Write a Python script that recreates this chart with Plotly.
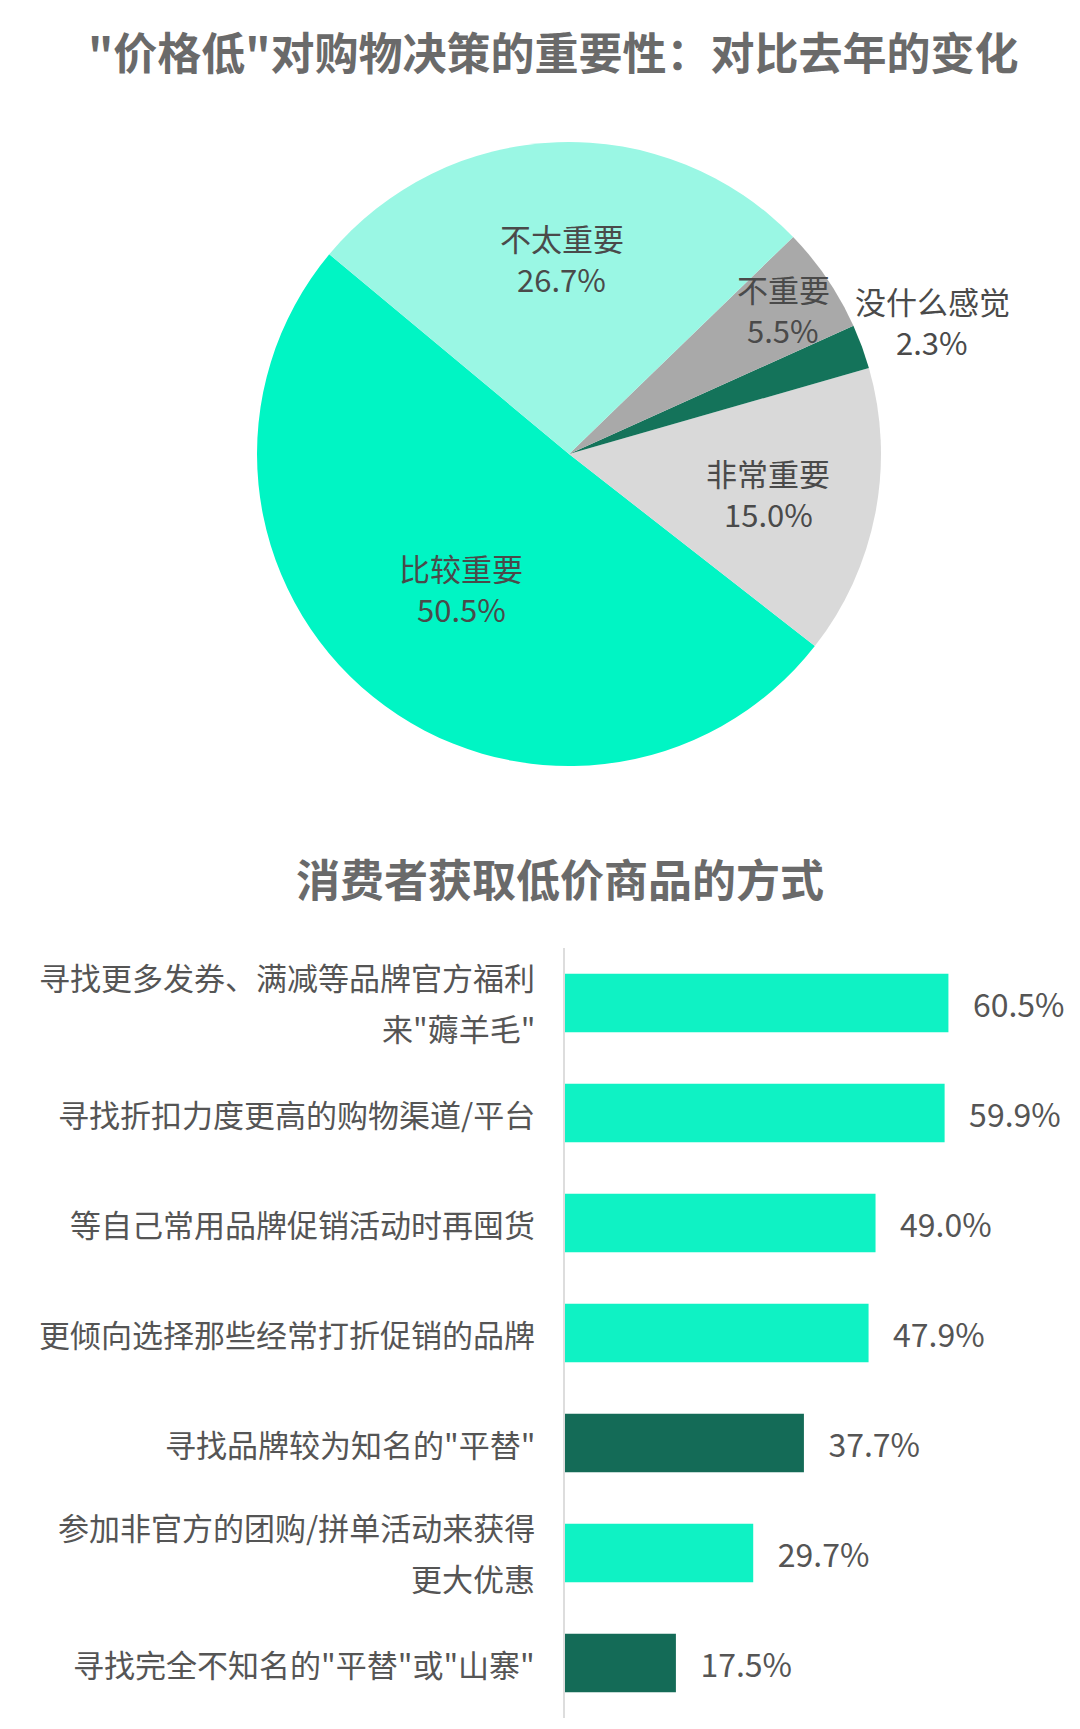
import math
import plotly.graph_objects as go

# page body has an 8px default margin; figure sized so the page is exactly 1080x1729
OFF = 8
W, H = 1080 - 2 * OFF, 1729 - 2 * OFF

# ---- Pie data ----
pie_labels = ["比较重要", "非常重要", "没什么感觉", "不重要", "不太重要"]
pie_values = [50.5, 15.0, 2.3, 5.5, 26.7]
pie_colors = ["#00F5C4", "#D9D9D9", "#14735A", "#A9A9A9", "#9AF7E4"]
# radial position of each slice label, as a fraction of the pie radius
pie_label_radius = [0.55, 0.65, 1.24, 0.83, 0.63]

# ---- Bar data ----
bar_labels = [
    "寻找更多发券、满减等品牌官方福利\n来\"薅羊毛\"",
    "寻找折扣力度更高的购物渠道/平台",
    "等自己常用品牌促销活动时再囤货",
    "更倾向选择那些经常打折促销的品牌",
    "寻找品牌较为知名的\"平替\"",
    "参加非官方的团购/拼单活动来获得\n更大优惠",
    "寻找完全不知名的\"平替\"或\"山寨\"",
]
bar_values = [60.5, 59.9, 49.0, 47.9, 37.7, 29.7, 17.5]
bar_colors = ["#0FF2C4", "#0FF2C4", "#0FF2C4", "#0FF2C4", "#146B57", "#0FF2C4", "#146B57"]

title1 = "\"价格低\"对购物决策的重要性：对比去年的变化"
title2 = "消费者获取低价商品的方式"

FONT = "Noto Sans CJK SC"
TEXT_GRAY = "#555555"
PIE_TEXT = "#4a4a4a"
TITLE_GRAY = "#6a6a6a"


def px(x):
    return (x - OFF) / W


def py(y):
    return 1 - (y - OFF) / H


fig = go.Figure()

# pie geometry (page pixels): center (569, 454), radius 312
cx, cy, r = 569, 454, 312
ROT = 128.0
fig.add_trace(go.Pie(
    labels=pie_labels,
    values=pie_values,
    marker=dict(colors=pie_colors, line=dict(width=0)),
    sort=False,
    direction="counterclockwise",
    rotation=ROT,
    textinfo="none",
    domain=dict(x=[px(cx - r), px(cx + r)], y=[py(cy + r), py(cy - r)]),
    showlegend=False,
    hoverinfo="label+percent",
))

# slice labels (name line + value line), placed at each slice's mid-angle
annotations = []
total = sum(pie_values)
cum = 0.0
for i, (lab, val) in enumerate(zip(pie_labels, pie_values)):
    deg = val / total * 360
    if i == 0:
        a0, a1 = ROT, ROT + deg
    else:
        a1 = ROT - cum
        a0 = a1 - deg
        cum += deg
    mid = math.radians((a0 + a1) / 2)
    f = pie_label_radius[i]
    x = cx + f * r * math.sin(mid)
    y = cy - f * r * math.cos(mid)
    for line, shift in ((lab, 20), (f"{val:.1f}%", -21)):
        annotations.append(dict(
            text=line, x=px(x), y=py(y), xref="paper", yref="paper", yshift=shift,
            showarrow=False, xanchor="center", yanchor="middle",
            font=dict(family=FONT, size=31, color=PIE_TEXT)))

fig.add_trace(go.Bar(
    x=bar_values,
    y=bar_labels,
    orientation="h",
    marker=dict(color=bar_colors, line=dict(width=0)),
    text=[f"\u00a0\u00a0\u00a0{v:.1f}%" for v in bar_values],
    textposition="outside",
    textfont=dict(family=FONT, size=32, color=TEXT_GRAY),
    cliponaxis=False,
    width=0.53,
    showlegend=False,
))

# category labels, right-aligned to the left of the axis, with roomy line spacing
for lab in bar_labels:
    lines = lab.split("\n")
    shifts = [0] if len(lines) == 1 else [27, -24]
    for line, shift in zip(lines, shifts):
        annotations.append(dict(
            text=line, x=px(537), y=lab, xref="paper", yref="y", yshift=shift,
            showarrow=False, xanchor="right", yanchor="middle",
            font=dict(family=FONT, size=31, color=TEXT_GRAY)))

annotations += [
    dict(text=f"<b>{title1}</b>", x=px(553), y=py(51), xref="paper", yref="paper",
         showarrow=False, xanchor="center", yanchor="middle",
         font=dict(family=FONT, size=44, color=TITLE_GRAY)),
    dict(text=f"<b>{title2}</b>", x=px(560), y=py(878), xref="paper", yref="paper",
         showarrow=False, xanchor="center", yanchor="middle",
         font=dict(family=FONT, size=44, color=TITLE_GRAY)),
]

fig.update_layout(
    width=W, height=H,
    margin=dict(l=0, r=0, t=0, b=0),
    paper_bgcolor="white",
    plot_bgcolor="white",
    font=dict(family=FONT, color=TEXT_GRAY),
    xaxis=dict(
        domain=[px(565), 1.0],
        range=[0, 80],
        visible=False,
        fixedrange=True,
    ),
    yaxis=dict(
        domain=[py(1718), py(948)],
        autorange="reversed",
        showline=True,
        linecolor="#DDDDDD",
        linewidth=2,
        showgrid=False,
        ticks="",
        showticklabels=False,
        zeroline=False,
    ),
    annotations=annotations,
)

fig.write_html("out.html")
